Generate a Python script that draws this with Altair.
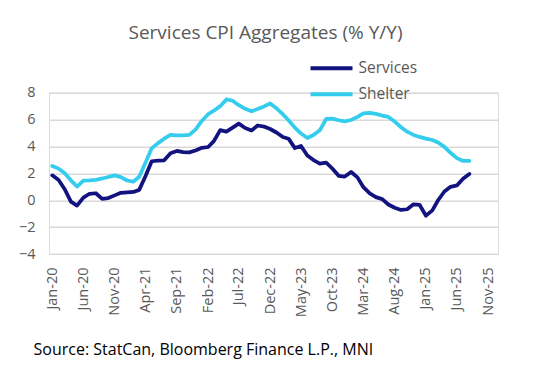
import altair as alt
import pandas as pd

# Monthly observations Jan-2020 .. Aug-2025
months = pd.date_range("2020-01-01", periods=68, freq="MS").strftime("%Y-%m-%d").tolist()

services = [
    1.85, 1.5, 0.84, -0.1, -0.4, 0.19, 0.48, 0.52, 0.1, 0.16, 0.36, 0.55,
    0.59, 0.62, 0.77, 1.8, 2.9, 2.95, 2.97, 3.5, 3.67, 3.58, 3.56, 3.7,
    3.9, 3.96, 4.4, 5.22, 5.1, 5.4, 5.7, 5.37, 5.19, 5.56, 5.48, 5.3,
    5.04, 4.71, 4.58, 3.88, 4.04, 3.33, 2.99, 2.73, 2.8, 2.36, 1.82, 1.76,
    2.1, 1.7, 0.97, 0.51, 0.23, 0.08, -0.32, -0.56, -0.72, -0.67, -0.3, -0.35,
    -1.15, -0.75, 0.0, 0.65, 1.0, 1.1, 1.6, 1.96,
]

shelter = [
    2.55, 2.35, 2.02, 1.48, 1.02, 1.46, 1.48, 1.52, 1.62, 1.73, 1.85, 1.72,
    1.47, 1.38, 1.75, 2.8, 3.86, 4.25, 4.58, 4.86, 4.83, 4.83, 4.86, 5.25,
    5.9, 6.4, 6.66, 7.0, 7.5, 7.4, 7.07, 6.8, 6.62, 6.78, 6.98, 7.2,
    6.84, 6.4, 5.95, 5.4, 4.96, 4.63, 4.85, 5.2, 6.05, 6.07, 5.95, 5.87,
    5.97, 6.2, 6.46, 6.5, 6.42, 6.3, 6.2, 5.85, 5.43, 5.1, 4.86, 4.71,
    4.58, 4.48, 4.3, 3.97, 3.53, 3.13, 2.92, 2.93,
]

series_names = ["Services", "Shelter"]
series_colors = ["#13137F", "#35CDEE"]
y_ticks = [-4, -2, 0, 2, 4, 6, 8]
x_tick_months = [(2020, 1), (2020, 6), (2020, 11), (2021, 4), (2021, 9), (2022, 2),
                 (2022, 7), (2022, 12), (2023, 5), (2023, 10), (2024, 3), (2024, 8),
                 (2025, 1), (2025, 6), (2025, 11)]

title_text = "Services CPI Aggregates (% Y/Y)"
source_text = "Source: StatCan, Bloomberg Finance L.P., MNI"

n = len(months)
df = pd.DataFrame({
    "date": months * 2,
    "value": services + shelter,
    "series": [series_names[0]] * n + [series_names[1]] * n,
})

FONT = "Open Sans"
GRAY = "#595959"

x_values = [alt.DateTime(year=y, month=m, date=1, utc=True) for y, m in x_tick_months]

chart = alt.Chart(df).mark_line(
    strokeWidth=3.75, strokeCap="round", strokeJoin="round"
).encode(
    x=alt.X(
        "date:T",
        scale=alt.Scale(
            type="utc",
            domain=[alt.DateTime(year=2019, month=12, date=16, utc=True),
                    alt.DateTime(year=2025, month=12, date=19, utc=True)],
        ),
        axis=alt.Axis(
            values=x_values, format="%b-%y", labelAngle=270, labelFontSize=14.5,
            labelColor=GRAY, labelPadding=13, grid=False, domain=False, ticks=False,
            title=source_text, titleFontSize=16, titleColor="#000000",
            titleFontWeight="normal", titleAnchor="start", titleAlign="left",
            titleBaseline="alphabetic", titleX=-16, titleY=100,
            labelFont=FONT, titleFont=FONT,
        ),
    ),
    y=alt.Y(
        "value:Q",
        scale=alt.Scale(domain=[-4, 8], nice=False, zero=False),
        axis=alt.Axis(
            values=y_ticks, title=None, labelFontSize=14.5, labelColor=GRAY,
            labelPadding=14, grid=True, gridColor="#D9D9D9", gridWidth=1.5,
            domain=False, ticks=False, labelFont=FONT,
        ),
    ),
    color=alt.Color(
        "series:N",
        scale=alt.Scale(domain=series_names, range=series_colors),
        legend=alt.Legend(
            title=None, orient="none", legendX=270, legendY=-37,
            direction="vertical", symbolType="M-2,0H2", symbolSize=441,
            symbolStrokeWidth=4, labelFontSize=15.5, labelColor=GRAY,
            labelOffset=14.5, rowPadding=5, padding=0, labelFont=FONT,
        ),
    ),
    order=alt.Order("series:N", sort="descending"),
).properties(
    width=449,
    height=161.3,
    autosize=alt.AutoSizeParams(type="none"),
    padding={"left": 41, "top": 84.7, "right": 27, "bottom": 108},
    title=alt.TitleParams(
        text=title_text, fontSize=19, color=GRAY, fontWeight="normal",
        anchor="middle", dx=-8, dy=33, offset=46, font=FONT,
    ),
).configure_view(stroke=None).configure(background="white")

chart.save("out.html", embed_options={"renderer": "svg", "actions": False})
